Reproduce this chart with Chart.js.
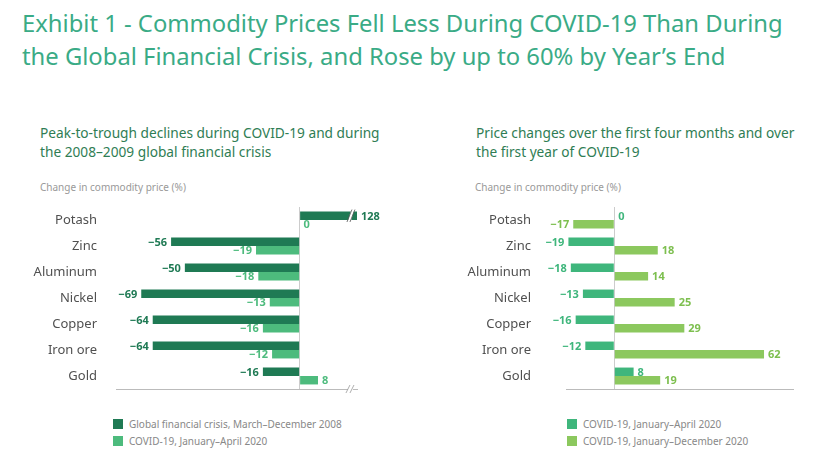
<!DOCTYPE html>
<html>
<head>
<meta charset="utf-8">
<script src="https://cdn.jsdelivr.net/npm/chart.js@4/dist/chart.umd.min.js"></script>
<style>
  body { margin: 0; background: #fff; font-family: "Noto Sans", sans-serif; }
  #page { position: relative; width: 823px; height: 462px; overflow: hidden; }
  h1 { position: absolute; left: 22px; top: 7px; margin: 0; font-weight: 400; font-size: 23.8px; line-height: 33px; color: #3aab86; }
  .sub { position: absolute; margin: 0; font-size: 13.7px; line-height: 19px; color: #2f7d54; }
  .unit { position: absolute; font-size: 10px; color: #999; }
  canvas { position: absolute; }
  .legend { position: absolute; font-size: 10px; color: #888; }
  .legend div { height: 17px; line-height: 12px; }
  .legend span { display: inline-block; width: 10px; height: 10px; vertical-align: -1px; margin-right: 6px; }
</style>
</head>
<body>
<div id="page">
  <h1>Exhibit 1 - Commodity Prices Fell Less During COVID-19 Than During<br>the Global Financial Crisis, and Rose by up to 60% by Year’s End</h1>

  <p class="sub" style="left:40px; top:123px;">Peak-to-trough declines during COVID-19 and during<br>the 2008–2009 global financial crisis</p>
  <p class="sub" style="left:476px; top:123px;">Price changes over the first four months and over<br>the first year of COVID-19</p>

  <div class="unit" style="left:40px; top:180px;">Change in commodity price (%)</div>
  <div class="unit" style="left:475px; top:180px;">Change in commodity price (%)</div>

  <canvas id="left" width="370" height="205" style="left:30px; top:195px;"></canvas>
  <canvas id="right" width="350" height="205" style="left:460px; top:195px;"></canvas>

  <div class="legend" style="left:113px; top:418px;">
    <div><span style="background:#1f7a54"></span>Global financial crisis, March–December 2008</div>
    <div><span style="background:#4dbb7d"></span>COVID-19, January–April 2020</div>
  </div>
  <div class="legend" style="left:567px; top:418px;">
    <div><span style="background:#3fb67c"></span>COVID-19, January–April 2020</div>
    <div><span style="background:#8cc85e"></span>COVID-19, January–December 2020</div>
  </div>
</div>

<script>
const commodities = ['Potash', 'Zinc', 'Aluminum', 'Nickel', 'Copper', 'Iron ore', 'Gold'];

// left panel
const gfc2008 = [128, -56, -50, -69, -64, -64, -16];
const covidAprLeft = [0, -19, -18, -13, -16, -12, 8];

// right panel
const covidApr = [0, -19, -18, -13, -16, -12, 8];
const covidDec = [-17, 18, 14, 25, 29, 62, 19];

// draws the value labels next to each bar
const valueLabels = {
  id: 'valueLabels',
  afterDatasetsDraw(chart) {
    const ctx = chart.ctx;
    const area = chart.chartArea;
    ctx.save();
    ctx.font = 'bold 11px "Noto Sans", sans-serif';
    ctx.textBaseline = 'middle';
    chart.data.datasets.forEach((ds, i) => {
      chart.getDatasetMeta(i).data.forEach((bar, j) => {
        const v = ds.data[j];
        const txt = v < 0 ? '\u2212' + Math.abs(v) : String(v);
        ctx.fillStyle = ds.labelColor;
        let x = bar.x;
        if (v < 0) {
          ctx.textAlign = 'right';
          x -= 4;
        } else {
          ctx.textAlign = 'left';
          x = Math.min(x, area.right) + 4;
        }
        ctx.fillText(txt, x, bar.y + 1);
      });
    });
    ctx.restore();
  }
};

// "//" break marks on the clipped bar and the axis
const breakMarks = {
  id: 'breakMarks',
  afterDatasetsDraw(chart, args, opts) {
    if (!opts.enabled) return;
    const ctx = chart.ctx;
    const area = chart.chartArea;
    const bx = chart.scales.x.getPixelForValue(opts.at);
    const bar = chart.getDatasetMeta(0).data[0];
    const h = bar.height;
    ctx.save();
    // gap in the bar
    ctx.fillStyle = '#fff';
    ctx.beginPath();
    ctx.moveTo(bx - 1, bar.y + h / 2 + 1);
    ctx.lineTo(bx + 2, bar.y + h / 2 + 1);
    ctx.lineTo(bx + 5, bar.y - h / 2 - 1);
    ctx.lineTo(bx + 2, bar.y - h / 2 - 1);
    ctx.closePath();
    ctx.fill();
    ctx.strokeStyle = '#555';
    ctx.lineWidth = 0.8;
    [[bx - 1, bx + 2], [bx + 2, bx + 5]].forEach(p => {
      ctx.beginPath();
      ctx.moveTo(p[0] - 1, bar.y + h / 2 + 2);
      ctx.lineTo(p[1] + 1, bar.y - h / 2 - 2);
      ctx.stroke();
    });
    // on the axis
    const y = area.bottom;
    ctx.fillStyle = '#fff';
    ctx.fillRect(bx - 1, y - 2, 5, 4);
    ctx.strokeStyle = '#999';
    [bx - 1, bx + 3].forEach(x0 => {
      ctx.beginPath();
      ctx.moveTo(x0 - 2, y + 4);
      ctx.lineTo(x0 + 2, y - 4);
      ctx.stroke();
    });
    ctx.restore();
  }
};

function makeChart(id, sets, xMin, xMax, yWidth, padRight, labelPad, breakAt) {
  return new Chart(document.getElementById(id), {
    type: 'bar',
    data: {
      labels: commodities,
      datasets: sets.map(s => ({
        data: s.data,
        backgroundColor: s.color,
        labelColor: s.labelColor,
        categoryPercentage: 0.65,
        barPercentage: 1
      }))
    },
    options: {
      indexAxis: 'y',
      responsive: false,
      animation: false,
      layout: { padding: { top: 12, right: padRight, bottom: 11, left: 0 } },
      plugins: {
        legend: { display: false },
        tooltip: { enabled: false },
        breakMarks: { enabled: breakAt !== null, at: breakAt }
      },
      scales: {
        x: {
          min: xMin,
          max: xMax,
          ticks: { display: false },
          border: { display: true, color: '#bbb' },
          grid: {
            drawTicks: false,
            color: c => (c.tick && c.tick.value === 0) ? '#ccc' : 'transparent'
          },
          afterFit: s => { s.height = 0; s.paddingLeft = 0; s.paddingRight = 0; }
        },
        y: {
          ticks: { color: '#505050', font: { size: 13, family: '"Noto Sans", sans-serif' }, padding: labelPad },
          grid: { display: false, drawTicks: false },
          border: { display: false },
          afterFit: s => { s.width = yWidth; s.paddingTop = 0; s.paddingBottom = 0; }
        }
      }
    },
    plugins: [valueLabels, breakMarks]
  });
}

makeChart('left', [
  { data: gfc2008, color: '#1f7a54', labelColor: '#1f7a54' },
  { data: covidAprLeft, color: '#4dbb7d', labelColor: '#4dbb7d' }
], -80, 25, 86, 43, 19, 21.5);

makeChart('right', [
  { data: covidApr, color: '#3fb67c', labelColor: '#3fb67c' },
  { data: covidDec, color: '#8cc85e', labelColor: '#7dbf4f' }
], -20, 74, 106, 17, 35, null);
</script>
</body>
</html>
